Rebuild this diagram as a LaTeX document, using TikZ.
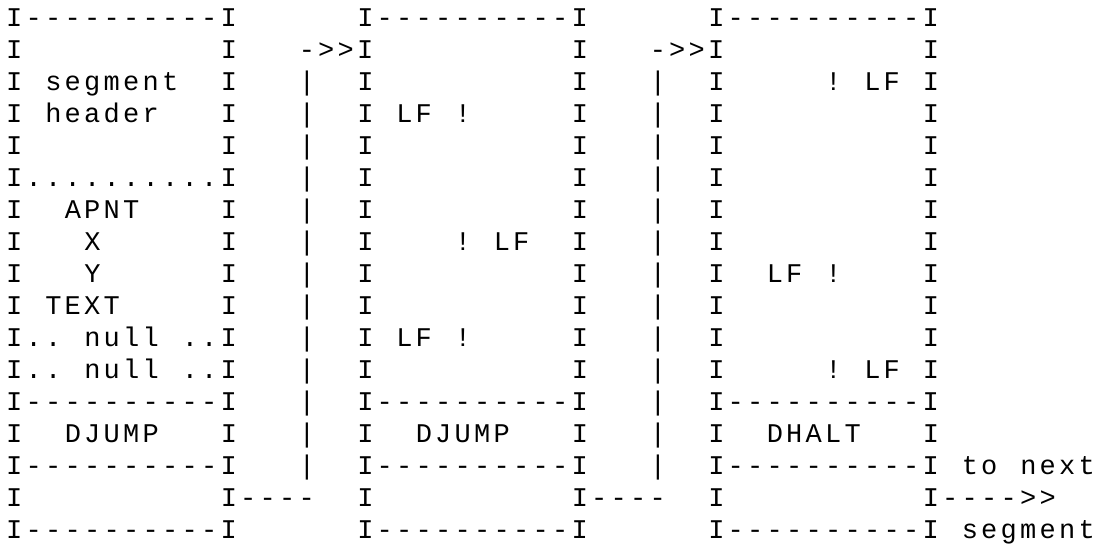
\documentclass[tikz,border=0pt]{standalone}
\usepackage{fontspec}
\newfontfamily\tw[LetterSpace=12.2]{Liberation Mono}
\tikzset{txt/.style={anchor=base west,inner sep=0pt,outer sep=0pt,text=black,font=\tw\fontsize{13.5pt}{13.5pt}\selectfont}}
\newcommand\tx[3]{\node[txt] (c#1r#2) at ({6.25+19.5*(#1)},{26+32*((#2)-1)}) {#3};}
\begin{document}
\begin{tikzpicture}[x=0.5pt,y=-0.5pt]
\useasboundingbox[fill=white] (0,0) rectangle (1106,546);
% border rows
\foreach \r in {1,13,15,17} {\tx{0}{\r}{I----------I}\tx{18}{\r}{I----------I}\tx{36}{\r}{I----------I}}
% box sides
\foreach \r in {2,3,4,5,7,8,9,10,14,16} {\tx{0}{\r}{I}}
\foreach \r in {2,3,4,5,7,8,9,10,14} {\tx{11}{\r}{I}}
\foreach \r in {3,...,12,14,16} {\tx{18}{\r}{I}}
\foreach \r in {2,...,12,14} {\tx{29}{\r}{I}}
\foreach \r in {3,...,12,14,16} {\tx{36}{\r}{I}}
\foreach \r in {2,...,12,14} {\tx{47}{\r}{I}}
% connectors
\tx{15}{2}{->>I}
\tx{33}{2}{->>I}
\foreach \r in {3,...,15} {\tx{15}{\r}{|}\tx{33}{\r}{|}}
\tx{11}{16}{I----}
\tx{29}{16}{I----}
\tx{47}{16}{I---->>}
% box 1 contents
\tx{2}{3}{segment}
\tx{2}{4}{header}
\tx{0}{6}{I..........I}
\tx{3}{7}{APNT}
\tx{4}{8}{X}
\tx{4}{9}{Y}
\tx{2}{10}{TEXT}
\tx{0}{11}{I..}\tx{4}{11}{null}\tx{9}{11}{..I}
\tx{0}{12}{I..}\tx{4}{12}{null}\tx{9}{12}{..I}
\tx{3}{14}{DJUMP}
% box 2 contents
\tx{20}{4}{LF}\tx{23}{4}{!}
\tx{23}{8}{!}\tx{25}{8}{LF}
\tx{20}{11}{LF}\tx{23}{11}{!}
\tx{21}{14}{DJUMP}
% box 3 contents
\tx{42}{3}{!}\tx{44}{3}{LF}
\tx{39}{9}{LF}\tx{42}{9}{!}
\tx{42}{12}{!}\tx{44}{12}{LF}
\tx{39}{14}{DHALT}
% side note
\tx{49}{15}{to}\tx{52}{15}{next}
\tx{49}{17}{segment}
\end{tikzpicture}
\end{document}
